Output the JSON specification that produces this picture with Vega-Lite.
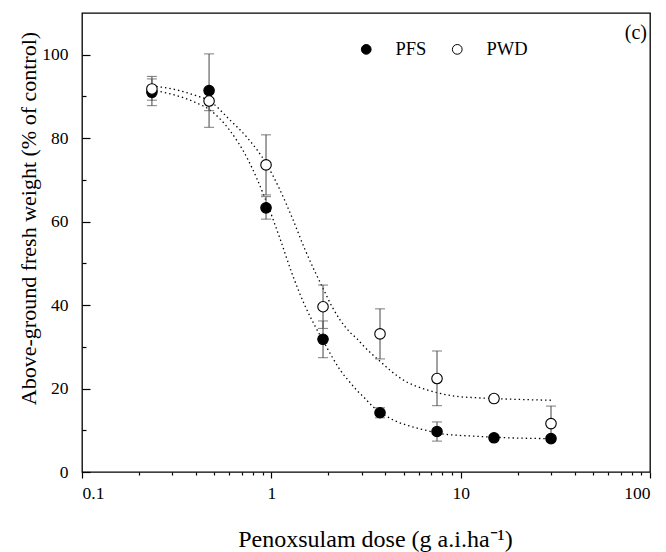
{
  "$schema": "https://vega.github.io/schema/vega-lite/v6.json",
  "width": 568,
  "height": 459,
  "autosize": {"type": "none"},
  "padding": {"left": 82, "top": 13, "right": 16, "bottom": 80},
  "background": "white",
  "title": {"text": "(c)", "anchor": "end", "orient": "top", "frame": "group", "offset": -30, "dx": -3, "fontSize": 20, "font": "Liberation Serif", "fontWeight": "normal", "color": "black"},
  "config": {
    "view": {"stroke": "black", "strokeWidth": 1.3},
    "font": "Liberation Serif",
    "axis": {"grid": false, "domain": false, "tickColor": "black", "labelColor": "black", "titleColor": "black", "labelFont": "Liberation Serif", "titleFont": "Liberation Serif", "labelFontSize": 17.5, "titleFontSize": 22, "titleFontWeight": "normal", "tickWidth": 1.2}
  },
  "datasets": {
    "pts": [
      {"dose": 0.234, "group": "PFS", "mean": 91.0, "lo": 87.8, "hi": 94.2},
      {"dose": 0.469, "group": "PFS", "mean": 91.4, "lo": 82.6, "hi": 100.2},
      {"dose": 0.9375, "group": "PFS", "mean": 63.3, "lo": 60.6, "hi": 66.0},
      {"dose": 1.875, "group": "PFS", "mean": 31.8, "lo": 27.4, "hi": 36.2},
      {"dose": 3.75, "group": "PFS", "mean": 14.2, "lo": 13.0, "hi": 15.4},
      {"dose": 7.5, "group": "PFS", "mean": 9.7, "lo": 7.4, "hi": 12.0},
      {"dose": 15, "group": "PFS", "mean": 8.2, "lo": 7.7, "hi": 8.7},
      {"dose": 30, "group": "PFS", "mean": 8.0, "lo": 7.5, "hi": 8.5},
      {"dose": 0.234, "group": "PWD", "mean": 91.8, "lo": 89.1, "hi": 94.8},
      {"dose": 0.469, "group": "PWD", "mean": 88.9, "lo": 86.6, "hi": 91.2},
      {"dose": 0.9375, "group": "PWD", "mean": 73.6, "lo": 66.4, "hi": 80.8},
      {"dose": 1.875, "group": "PWD", "mean": 39.6, "lo": 34.4, "hi": 44.8},
      {"dose": 3.75, "group": "PWD", "mean": 33.1, "lo": 27.1, "hi": 39.1},
      {"dose": 7.5, "group": "PWD", "mean": 22.4, "lo": 15.9, "hi": 29.0},
      {"dose": 15, "group": "PWD", "mean": 17.6, "lo": 16.9, "hi": 18.3},
      {"dose": 30, "group": "PWD", "mean": 11.6, "lo": 7.4, "hi": 15.8}
    ],
    "curve": [
      {"dose": 0.234, "group": "PFS", "value": 91.5},
      {"dose": 0.3, "group": "PFS", "value": 90.5},
      {"dose": 0.4, "group": "PFS", "value": 88.5},
      {"dose": 0.469, "group": "PFS", "value": 86.9},
      {"dose": 0.6, "group": "PFS", "value": 82.0},
      {"dose": 0.75, "group": "PFS", "value": 75.0},
      {"dose": 0.9375, "group": "PFS", "value": 65.0},
      {"dose": 1.1, "group": "PFS", "value": 56.5},
      {"dose": 1.3, "group": "PFS", "value": 47.0},
      {"dose": 1.5, "group": "PFS", "value": 40.0},
      {"dose": 1.7, "group": "PFS", "value": 35.0},
      {"dose": 1.875, "group": "PFS", "value": 31.5},
      {"dose": 2.1, "group": "PFS", "value": 27.5},
      {"dose": 2.32, "group": "PFS", "value": 24.3},
      {"dose": 2.6, "group": "PFS", "value": 21.5},
      {"dose": 2.84, "group": "PFS", "value": 19.5},
      {"dose": 3.1, "group": "PFS", "value": 17.8},
      {"dose": 3.47, "group": "PFS", "value": 15.5},
      {"dose": 3.8, "group": "PFS", "value": 14.2},
      {"dose": 4.26, "group": "PFS", "value": 12.8},
      {"dose": 4.7, "group": "PFS", "value": 11.9},
      {"dose": 5.22, "group": "PFS", "value": 11.2},
      {"dose": 5.8, "group": "PFS", "value": 10.6},
      {"dose": 6.4, "group": "PFS", "value": 10.1},
      {"dose": 7.84, "group": "PFS", "value": 9.2},
      {"dose": 9.6, "group": "PFS", "value": 8.8},
      {"dose": 11.7, "group": "PFS", "value": 8.6},
      {"dose": 17.7, "group": "PFS", "value": 8.2},
      {"dose": 30, "group": "PFS", "value": 8.0},
      {"dose": 0.234, "group": "PWD", "value": 92.5},
      {"dose": 0.3, "group": "PWD", "value": 91.8},
      {"dose": 0.4, "group": "PWD", "value": 90.2},
      {"dose": 0.469, "group": "PWD", "value": 89.0},
      {"dose": 0.6, "group": "PWD", "value": 84.5},
      {"dose": 0.75, "group": "PWD", "value": 80.0},
      {"dose": 0.9375, "group": "PWD", "value": 74.0},
      {"dose": 1.1, "group": "PWD", "value": 68.0},
      {"dose": 1.3, "group": "PWD", "value": 60.5},
      {"dose": 1.5, "group": "PWD", "value": 53.5},
      {"dose": 1.7, "group": "PWD", "value": 48.0},
      {"dose": 1.875, "group": "PWD", "value": 44.0},
      {"dose": 2.1, "group": "PWD", "value": 39.5},
      {"dose": 2.32, "group": "PWD", "value": 36.3},
      {"dose": 2.6, "group": "PWD", "value": 33.5},
      {"dose": 2.84, "group": "PWD", "value": 31.9},
      {"dose": 3.1, "group": "PWD", "value": 30.0},
      {"dose": 3.47, "group": "PWD", "value": 27.9},
      {"dose": 3.8, "group": "PWD", "value": 26.3},
      {"dose": 4.26, "group": "PWD", "value": 24.3},
      {"dose": 4.7, "group": "PWD", "value": 22.8},
      {"dose": 5.22, "group": "PWD", "value": 21.5},
      {"dose": 5.8, "group": "PWD", "value": 20.6},
      {"dose": 6.4, "group": "PWD", "value": 19.9},
      {"dose": 7.5, "group": "PWD", "value": 19.0},
      {"dose": 9.6, "group": "PWD", "value": 18.1},
      {"dose": 12, "group": "PWD", "value": 17.8},
      {"dose": 15, "group": "PWD", "value": 17.6},
      {"dose": 20, "group": "PWD", "value": 17.4},
      {"dose": 30, "group": "PWD", "value": 17.2}
    ]
  },
  "resolve": {"axis": {"x": "independent", "y": "independent"}},
  "layer": [
    {
      "data": {"name": "curve"},
      "mark": {"type": "line", "color": "black", "strokeWidth": 1.3, "strokeDash": [1.4, 3], "interpolate": "monotone"},
      "encoding": {
        "x": {"field": "dose", "type": "quantitative", "scale": {"type": "log", "domain": [0.1, 100], "nice": false},
              "axis": {"orient": "bottom", "values": [0.2, 0.3, 0.4, 0.5, 0.6, 0.7, 0.8, 0.9, 2, 3, 4, 5, 6, 7, 8, 9, 20, 30, 40, 50, 60, 70, 80, 90], "labels": false, "tickSize": 3, "title": null}},
        "y": {"field": "value", "type": "quantitative", "scale": {"domain": [0, 110], "nice": false},
              "axis": {"orient": "left", "values": [10, 30, 50, 70, 90], "labels": false, "tickSize": -4, "title": null}},
        "detail": {"field": "group"}
      }
    },
    {
      "data": {"name": "pts"},
      "mark": {"type": "rule", "color": "#555555", "strokeWidth": 1.1},
      "encoding": {
        "x": {"field": "dose", "type": "quantitative", "scale": {"type": "log", "domain": [0.1, 100], "nice": false}, "axis": null},
        "y": {"field": "lo", "type": "quantitative", "scale": {"domain": [0, 110], "nice": false}, "axis": null},
        "y2": {"field": "hi"}
      }
    },
    {
      "data": {"name": "pts"},
      "mark": {"type": "tick", "orient": "horizontal", "color": "#555555", "size": 10, "thickness": 1.1},
      "encoding": {
        "x": {"field": "dose", "type": "quantitative", "scale": {"type": "log", "domain": [0.1, 100], "nice": false}, "axis": null},
        "y": {"field": "lo", "type": "quantitative", "scale": {"domain": [0, 110], "nice": false}, "axis": null}
      }
    },
    {
      "data": {"name": "pts"},
      "mark": {"type": "tick", "orient": "horizontal", "color": "#555555", "size": 10, "thickness": 1.1},
      "encoding": {
        "x": {"field": "dose", "type": "quantitative", "scale": {"type": "log", "domain": [0.1, 100], "nice": false}, "axis": null},
        "y": {"field": "hi", "type": "quantitative", "scale": {"domain": [0, 110], "nice": false}, "axis": null}
      }
    },
    {
      "data": {"name": "pts"},
      "mark": {"type": "circle", "stroke": "black", "strokeWidth": 1.1, "opacity": 1, "size": 110},
      "encoding": {
        "x": {"field": "dose", "type": "quantitative", "scale": {"type": "log", "domain": [0.1, 100], "nice": false},
              "axis": {"orient": "bottom", "values": [0.1, 1, 10, 100], "format": "~g", "tickSize": 6, "labelPadding": 6, "labelFont": "Liberation Serif", "titleFont": "Liberation Serif", "title": "Penoxsulam dose (g a.i.ha⁻¹)", "titleFontSize": 24, "titleX": 293, "titleY": 74, "titleBaseline": "alphabetic"}},
        "y": {"field": "mean", "type": "quantitative", "scale": {"domain": [0, 110], "nice": false},
              "axis": {"orient": "left", "values": [0, 20, 40, 60, 80, 100], "tickSize": -8, "labelPadding": 22, "labelFont": "Liberation Serif", "titleFont": "Liberation Serif", "title": "Above-ground fresh weight (% of control)", "titleX": -47, "titleY": 205, "titleBaseline": "alphabetic", "titleAngle": -90}},
        "fill": {"field": "group", "type": "nominal", "scale": {"domain": ["PFS", "PWD"], "range": ["black", "white"]},
                 "legend": {"title": null, "orient": "none", "legendX": 275, "legendY": 27, "direction": "horizontal", "symbolType": "circle", "symbolSize": 95, "symbolStrokeColor": "black", "symbolStrokeWidth": 1, "labelFont": "Liberation Serif", "labelFontSize": 18.5, "labelColor": "black", "labelOffset": 20, "columnPadding": 21}}
      }
    }
  ]
}
